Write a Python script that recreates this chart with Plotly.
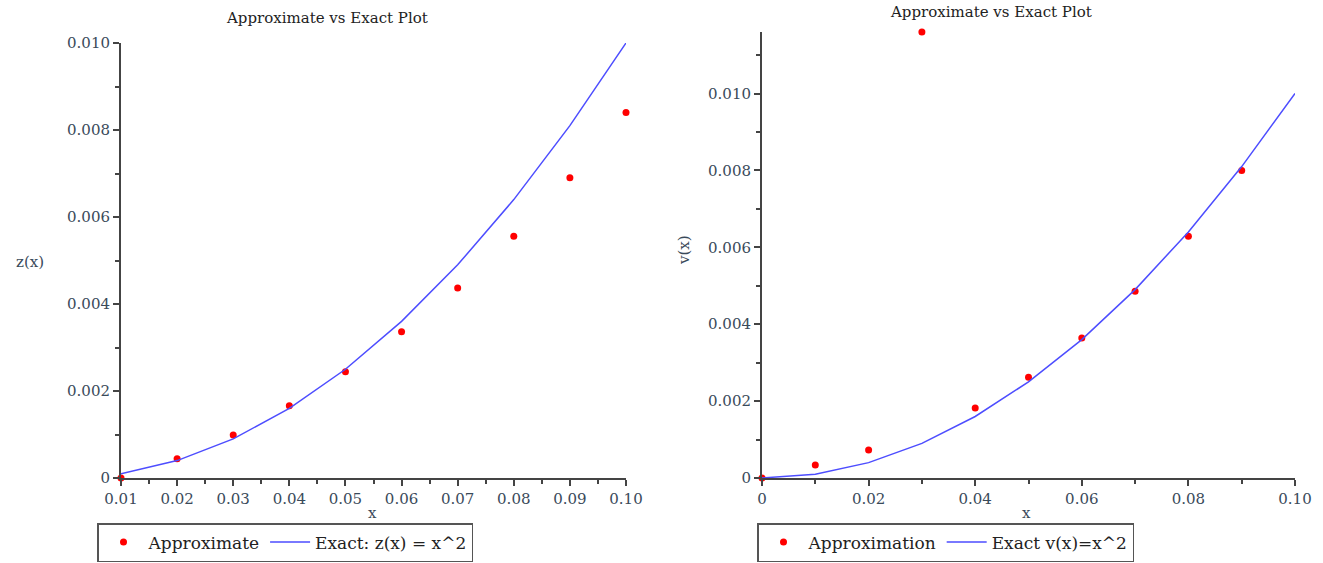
import plotly.graph_objects as go

# Left chart data
x_left = [0.01, 0.02, 0.03, 0.04, 0.05, 0.06, 0.07, 0.08, 0.09, 0.10]
approx_left = [0.0, 0.00044, 0.00099, 0.00166, 0.00244, 0.00336, 0.00437, 0.00556, 0.0069, 0.0084]
exact_left = [0.0001, 0.0004, 0.0009, 0.0016, 0.0025, 0.0036, 0.0049, 0.0064, 0.0081, 0.0100]

# Right chart data
x_right_approx = [0.0, 0.01, 0.02, 0.03, 0.04, 0.05, 0.06, 0.07, 0.08, 0.09]
approx_right = [0.0, 0.00034, 0.00073, 0.0116, 0.00182, 0.00262, 0.00364, 0.00486, 0.00629, 0.0080]
x_right_exact = [0.0, 0.01, 0.02, 0.03, 0.04, 0.05, 0.06, 0.07, 0.08, 0.09, 0.10]
exact_right = [0.0, 0.0001, 0.0004, 0.0009, 0.0016, 0.0025, 0.0036, 0.0049, 0.0064, 0.0081, 0.0100]

left_xticks = [0.01, 0.02, 0.03, 0.04, 0.05, 0.06, 0.07, 0.08, 0.09, 0.10]
left_xtext = ["0.01", "0.02", "0.03", "0.04", "0.05", "0.06", "0.07", "0.08", "0.09", "0.10"]
yticks = [0, 0.002, 0.004, 0.006, 0.008, 0.010]
ytext = ["0", "0.002", "0.004", "0.006", "0.008", "0.010"]
right_xticks = [0, 0.02, 0.04, 0.06, 0.08, 0.10]
right_xtext = ["0", "0.02", "0.04", "0.06", "0.08", "0.10"]

SERIF = "DejaVu Serif, Liberation Serif, serif"
RED = "#ff0000"
BLUE = "#4d4dff"
AXC = "#444444"
TXT = "#3a4a5a"

W, H = 1323, 563

def px_x(p):
    return p / W

def px_y(p):
    return (H - p) / H

fig = go.Figure()

fig.add_trace(go.Scatter(x=x_left, y=approx_left, mode="markers", name="Approximate",
                         marker=dict(color=RED, size=7), xaxis="x", yaxis="y", legend="legend",
                         cliponaxis=False))
fig.add_trace(go.Scatter(x=x_left, y=exact_left, mode="lines", name="Exact: z(x) = x^2",
                         line=dict(color=BLUE, width=1.5), xaxis="x", yaxis="y", legend="legend"))
fig.add_trace(go.Scatter(x=x_right_approx, y=approx_right, mode="markers", name="Approximation",
                         marker=dict(color=RED, size=7), xaxis="x2", yaxis="y2", legend="legend2",
                         cliponaxis=False))
fig.add_trace(go.Scatter(x=x_right_exact, y=exact_right, mode="lines", name="Exact v(x)=x^2",
                         line=dict(color=BLUE, width=1.5), xaxis="x2", yaxis="y2", legend="legend2"))

axis_common = dict(showgrid=False, zeroline=False, showline=True, linecolor=AXC, linewidth=2,
                   ticks="outside", ticklen=6, tickcolor=AXC, tickwidth=1.5, automargin=False,
                   tickfont=dict(family=SERIF, size=15, color=TXT))

legend_common = dict(orientation="h", xanchor="left", yanchor="top",
                     bordercolor="#555555", borderwidth=1.5, bgcolor="white",
                     font=dict(family=SERIF, size=17, color="#222222"),
                     itemwidth=40, tracegroupgap=0)

fig.update_layout(
    template="none",
    width=W, height=H,
    margin=dict(l=0, r=0, t=0, b=0, autoexpand=False),
    paper_bgcolor="white", plot_bgcolor="white",
    xaxis=dict(domain=[px_x(121), px_x(626)], range=[0.01, 0.10], anchor="y",
               tickvals=left_xticks, ticktext=left_xtext,
               minor=dict(dtick=0.005, tick0=0.01, ticks="outside", ticklen=4, tickcolor=AXC),
               **axis_common),
    yaxis=dict(domain=[px_y(478), px_y(43)], range=[0, 0.010], anchor="x",
               tickvals=yticks, ticktext=ytext,
               minor=dict(dtick=0.001, tick0=0, ticks="outside", ticklen=4, tickcolor=AXC),
               **axis_common),
    xaxis2=dict(domain=[px_x(762), px_x(1295)], range=[0, 0.10], anchor="y2",
                tickvals=right_xticks, ticktext=right_xtext,
                minor=dict(dtick=0.01, tick0=0, ticks="outside", ticklen=4, tickcolor=AXC),
                **axis_common),
    yaxis2=dict(domain=[px_y(478), px_y(32)], range=[0, 0.0116], anchor="x2",
                tickvals=yticks, ticktext=ytext,
                minor=dict(dtick=0.001, tick0=0, ticks="outside", ticklen=4, tickcolor=AXC),
                **axis_common),
    legend=dict(x=px_x(97), y=px_y(523), **legend_common),
    legend2=dict(x=px_x(757), y=px_y(523), **legend_common),
    showlegend=True,
)

ann_font = dict(family=SERIF, size=15, color="#222222")
lbl_font = dict(family=SERIF, size=15, color=TXT)
fig.add_annotation(text="Approximate vs Exact Plot", x=px_x(327), y=px_y(18), xref="paper", yref="paper",
                   showarrow=False, font=ann_font, xanchor="center", yanchor="middle")
fig.add_annotation(text="Approximate vs Exact Plot", x=px_x(991), y=px_y(12), xref="paper", yref="paper",
                   showarrow=False, font=ann_font, xanchor="center", yanchor="middle")
fig.add_annotation(text="x", x=px_x(372), y=px_y(513), xref="paper", yref="paper",
                   showarrow=False, font=lbl_font, xanchor="center", yanchor="middle")
fig.add_annotation(text="x", x=px_x(1026), y=px_y(513), xref="paper", yref="paper",
                   showarrow=False, font=lbl_font, xanchor="center", yanchor="middle")
fig.add_annotation(text="z(x)", x=px_x(30), y=px_y(262), xref="paper", yref="paper",
                   showarrow=False, font=lbl_font, xanchor="center", yanchor="middle")
fig.add_annotation(text="v(x)", x=px_x(684), y=px_y(250), xref="paper", yref="paper",
                   showarrow=False, font=lbl_font, xanchor="center", yanchor="middle", textangle=-90)

fig.write_html("out.html", config={"displayModeBar": False},
               post_script="document.body.style.margin='0';document.body.style.overflow='hidden';")
